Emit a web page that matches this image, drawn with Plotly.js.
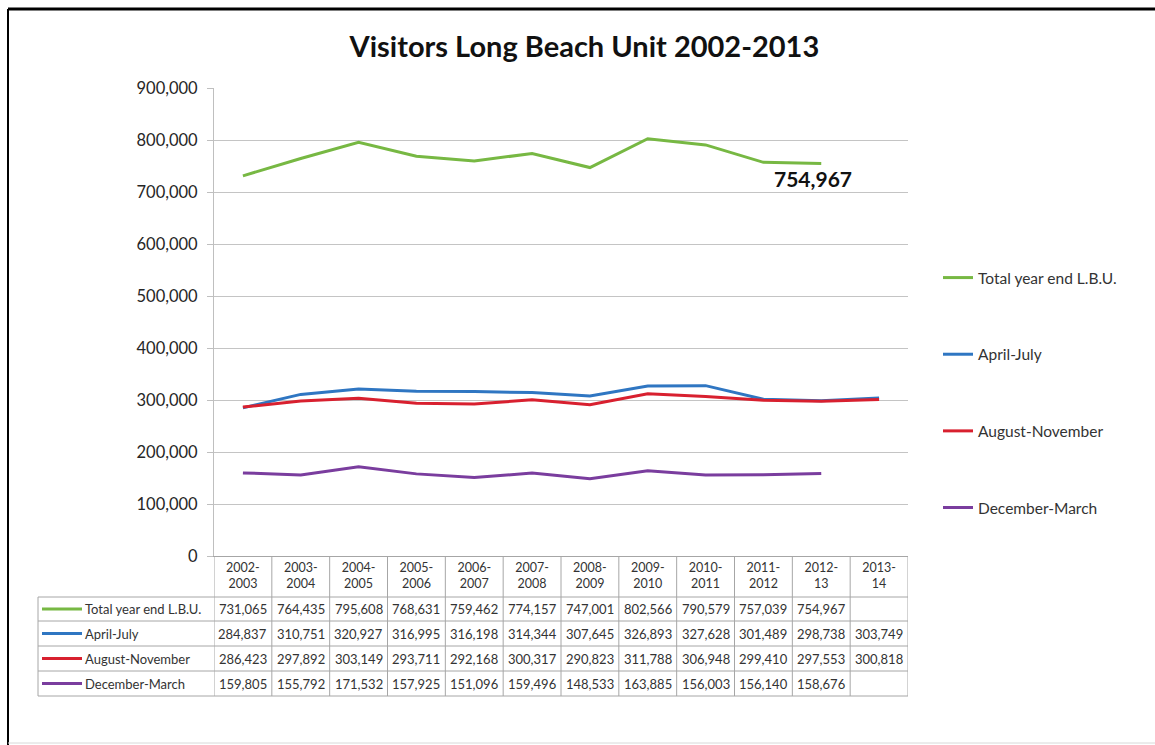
<!DOCTYPE html>
<html>
<head>
<meta charset="utf-8">
<script src="https://cdn.plot.ly/plotly-3.0.1.min.js"></script>
<style>
html,body{margin:0;padding:0;background:#fff;}
#chart{width:1155px;height:745px;}
</style>
</head>
<body>
<div id="chart"></div>
<script>
const categories = ["2002-2003","2003-2004","2004-2005","2005-2006","2006-2007","2007-2008","2008-2009","2009-2010","2010-2011","2011-2012","2012-13","2013-14"];
const seriesNames = ["Total year end L.B.U.","April-July","August-November","December-March"];
const totalYearEnd = [731065,764435,795608,768631,759462,774157,747001,802566,790579,757039,754967,null];
const aprilJuly = [284837,310751,320927,316995,316198,314344,307645,326893,327628,301489,298738,303749];
const augustNovember = [286423,297892,303149,293711,292168,300317,290823,311788,306948,299410,297553,300818];
const decemberMarch = [159805,155792,171532,157925,151096,159496,148533,163885,156003,156140,158676,null];
const yTicks = [0,100000,200000,300000,400000,500000,600000,700000,800000,900000];
const titleText = "Visitors Long Beach Unit 2002-2013";

const seriesValues = [totalYearEnd, aprilJuly, augustNovember, decemberMarch];
const colors = ["#77b843","#2f76c2","#d8202f","#7a3d9e"];

const W = 1155, H = 745;
const L = 214, R = 908, T = 88, B = 556;
const pw = R - L, ph = B - T;
const px2x = p => (p - L) / pw;
const py2y = p => (B - p) / ph;

const fontFam = "Lato, 'Open Sans', sans-serif";
const textColor = "#333333";
const fmt = v => v == null ? "" : v.toLocaleString("en-US");

const traces = seriesValues.map((vals, i) => ({
  type: "scatter",
  mode: "lines",
  x: categories,
  y: vals,
  name: seriesNames[i],
  legendgroup: "g" + i,
  line: {color: colors[i], width: 3},
  connectgaps: false,
  hoverinfo: "x+y+name"
}));

const shapes = [];
const annotations = [];

// frame
shapes.push({type:"line", xref:"paper", yref:"paper", x0:px2x(8), x1:px2x(1160), y0:py2y(9), y1:py2y(9), line:{color:"#000", width:3}});
shapes.push({type:"line", xref:"paper", yref:"paper", x0:px2x(8), x1:px2x(8), y0:py2y(9), y1:py2y(745), line:{color:"#000", width:2}});
shapes.push({type:"line", xref:"paper", yref:"paper", x0:px2x(8), x1:px2x(1160), y0:py2y(743), y1:py2y(743), line:{color:"#d8d8d8", width:1}});

// data table grid
const rowTops = [597, 621, 646, 671, 696];
const gridColor = "#a6a6a6";
const n = categories.length;
for (let k = 0; k <= n; k++) {
  shapes.push({type:"line", xref:"x", yref:"paper", x0:k-0.5, x1:k-0.5, y0:py2y(556), y1:py2y(696), line:{color:gridColor, width:1}});
}
shapes.push({type:"line", xref:"paper", yref:"paper", x0:px2x(38), x1:px2x(38), y0:py2y(597), y1:py2y(696), line:{color:gridColor, width:1}});
rowTops.forEach(py => {
  shapes.push({type:"line", xref:"paper", yref:"paper", x0:px2x(38), x1:1, y0:py2y(py), y1:py2y(py), line:{color:gridColor, width:1}});
});

for (let r = 0; r < seriesNames.length; r++) {
  const yc = py2y((rowTops[r] + rowTops[r+1]) / 2);
  shapes.push({type:"line", xref:"paper", yref:"paper", x0:px2x(42), x1:px2x(82), y0:yc, y1:yc, line:{color:colors[r], width:3}});
  annotations.push({xref:"paper", yref:"paper", x:px2x(83), y:yc, xanchor:"left", yanchor:"middle", showarrow:false,
    text:seriesNames[r], font:{family:fontFam, size:13, color:textColor}});
  seriesValues[r].forEach((v, i) => {
    if (v == null) return;
    annotations.push({xref:"x", yref:"paper", x:categories[i], y:yc, xanchor:"center", yanchor:"middle", showarrow:false,
      text:fmt(v), font:{family:fontFam, size:13, color:textColor}});
  });
}

const lastIdx = 10;
annotations.push({xref:"x", yref:"y", x:categories[lastIdx], y:totalYearEnd[lastIdx], xshift:-8, yshift:-15,
  showarrow:false, text:"<b>"+fmt(totalYearEnd[lastIdx])+"</b>", font:{family:fontFam, size:21, color:"#111"}});

const layout = {
  width: W, height: H,
  paper_bgcolor:"#fff", plot_bgcolor:"#fff",
  margin:{l:L, r:W-R, t:T, b:H-B, pad:0},
  title:{text:"<b>"+titleText+"</b>", x:0.506, xanchor:"center", y:1-47/H, yanchor:"middle",
    font:{family:fontFam, size:29, color:"#111"}},
  xaxis:{
    type:"category", categoryorder:"array", categoryarray:categories,
    range:[-0.5, n-0.5],
    tickvals:categories, ticktext:categories.map(c => c.replace("-", "-<br>")),
    ticks:"", showgrid:false, zeroline:false, showline:true, linecolor:gridColor, linewidth:1,
    tickfont:{family:fontFam, size:12.5, color:textColor}, fixedrange:true
  },
  yaxis:{
    range:[0, 900000], tickvals:yTicks, ticktext:yTicks.map(fmt),
    showgrid:true, gridcolor:"#c4c4c4", gridwidth:1, zeroline:false,
    showline:true, linecolor:"#bfbfbf", linewidth:1, ticks:"outside", ticklen:6, tickcolor:"#bfbfbf",
    ticklabelstandoff:6,
    tickfont:{family:fontFam, size:16.5, color:"#262626"}, fixedrange:true
  },
  showlegend:true,
  legend:{x:px2x(938), y:py2y(261), xanchor:"left", yanchor:"top", tracegroupgap:53.5,
    font:{family:fontFam, size:15.5, color:textColor}, bgcolor:"rgba(0,0,0,0)", itemwidth:30},
  shapes:shapes,
  annotations:annotations
};

Plotly.newPlot("chart", traces, layout, {displayModeBar:false, staticPlot:true});
</script>
</body>
</html>
